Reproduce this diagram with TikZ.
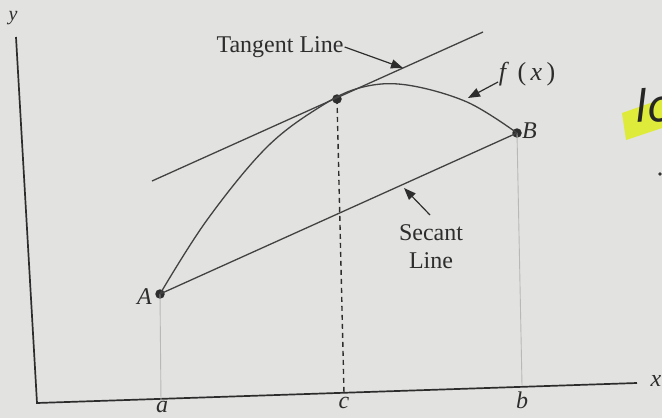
\documentclass[tikz,border=0pt]{standalone}
\usepackage{fontspec}
\setmainfont{Liberation Serif}
\newfontfamily\handfont{DejaVu Sans}
\usetikzlibrary{arrows.meta}
\definecolor{paper}{RGB}{226,226,224}
\definecolor{ink}{RGB}{45,45,45}
\definecolor{hilite}{RGB}{222,236,40}
\begin{document}
\begin{tikzpicture}[x=1pt,y=-1pt,
  axis/.style={draw=ink,line width=1.7pt},
  graph/.style={draw=ink!90,line width=1.3pt},
  guide/.style={draw=black!28,line width=0.9pt},
  dashguide/.style={draw=ink,line width=1.4pt,dash pattern=on 5pt off 4pt},
  dot/.style={circle,fill=ink,inner sep=0pt,minimum size=9.5pt},
  lbl/.style={font=\fontsize{24}{28}\selectfont,text=ink,inner sep=1pt},
  small/.style={font=\fontsize{20}{24}\selectfont,text=ink,inner sep=1pt},
  pointer/.style={draw=ink,line width=1.2pt,-{Triangle[length=12pt,width=9pt]}}
]
\useasboundingbox (0,0) rectangle (662,418);
\fill[paper] (0,0) rectangle (662,418);

% axes
\coordinate (ytop) at (16,37);
\coordinate (O) at (37,403);
\coordinate (xend) at (637,383);
\draw[axis] (ytop) -- (O) -- (xend);
\node[small] (ylab) at (13,18) {\textit{y}};
\node[lbl] (xlab) at (656,381) {\textit{x}};

% points
\node[dot] (A) at (160,294) {};
\node[dot] (B) at (517,133) {};
\node[dot] (C) at (337,99) {};
\coordinate (ta) at (161,402);
\coordinate (tb) at (522,385);
\coordinate (tc) at (344,393);

% guides
\draw[guide] (A.center) -- (ta);
\draw[guide] (B.center) -- (tb);
\draw[dashguide] (C.center) -- (tc);

% curve f(x)
\draw[graph] plot[smooth,tension=0.6] coordinates {(160,294) (207,220) (267,147) (323,105) (363,87) (407,85) (467,102) (517,133)};

% tangent line
\coordinate (T1) at (152,181);
\coordinate (T2) at (483,32);
\draw[graph] (T1) -- (T2);

% secant line
\draw[graph] (A.center) -- (B.center);

% point labels
\node[lbl,anchor=east] (Alab) at (153,297) {\textit{A}};
\node[lbl,anchor=west] (Blab) at (521,131) {\textit{B}};
\node[lbl] (alab) at (162,407) {\textit{a}};
\node[lbl] (clab) at (344,403) {\textit{c}};
\node[lbl] (blab) at (522,400) {\textit{b}};

% callouts
\node[lbl] (tl) at (280,47) {Tangent Line};
\coordinate (tlhit) at (403,68);
\draw[pointer] (tl.east) -- (tlhit);

\node[lbl,font=\fontsize{26}{30}\selectfont] (fl) at (527,74) {\textit{f}\,\,(\,\textit{x}\,)};
\coordinate (fltail) at (498,82);
\coordinate (flhit) at (468,98);
\draw[pointer] (fltail) -- (flhit);

\node[lbl,align=center] (sl) at (431,247) {Secant\\Line};
\coordinate (sltail) at (430,215);
\coordinate (slhit) at (404,188);
\draw[pointer] (sltail) -- (slhit);

% handwritten margin note
\fill[hilite,opacity=0.9] (622,113) -- (662,99) -- (662,128) -- (626,140) -- cycle;
\node[font=\handfont\itshape\fontsize{44}{50}\selectfont,text=black!85,anchor=base west,rotate=4,inner sep=0pt] (hand) at (636,123) {lo};
\fill[black!80] (660,174) circle (1.8pt);
\end{tikzpicture}
\end{document}
